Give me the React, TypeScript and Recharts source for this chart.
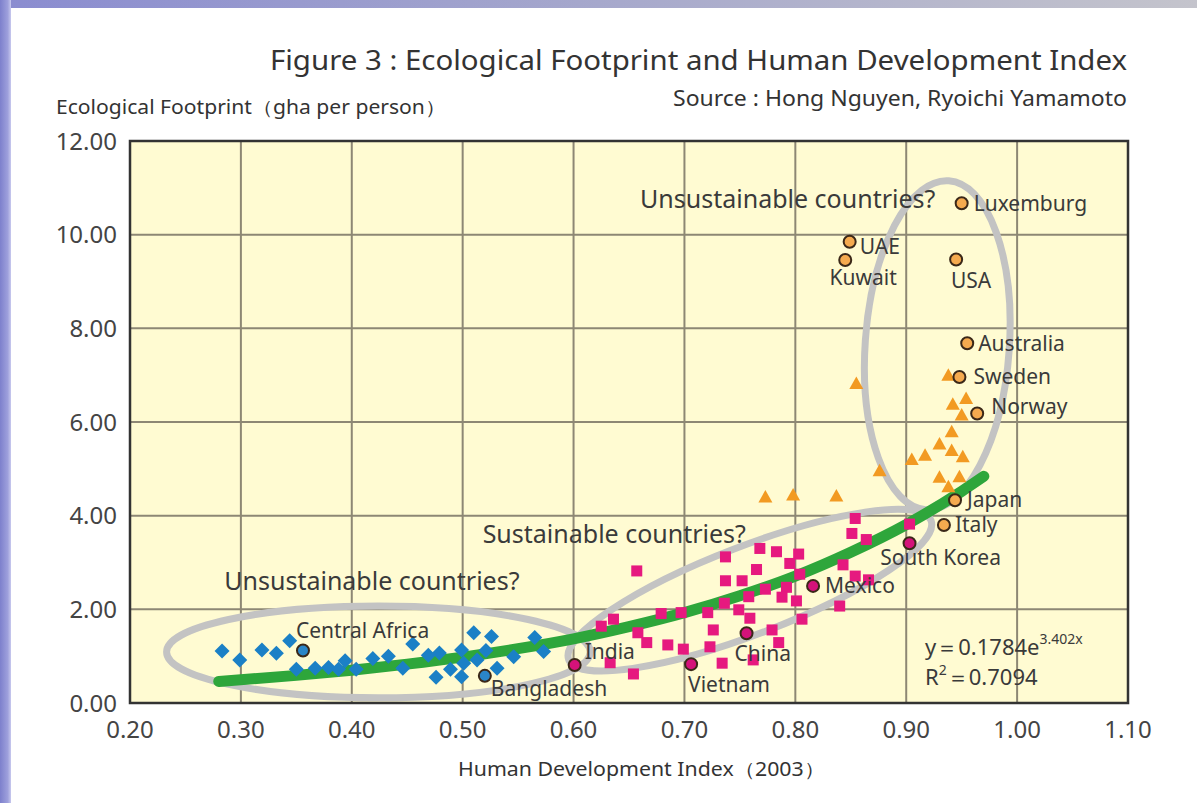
import React from 'react';
import { ScatterChart, Scatter, XAxis, YAxis, CartesianGrid, ReferenceArea } from 'recharts';

// ---------- data ----------
const lowHdi = [0.283, 0.299, 0.319, 0.332, 0.344, 0.350, 0.367, 0.379, 0.388, 0.394, 0.404, 0.419, 0.433, 0.446, 0.455, 0.469, 0.479, 0.476, 0.489, 0.499, 0.510, 0.526, 0.521, 0.513, 0.501, 0.499, 0.531, 0.546, 0.565, 0.573];
const lowEf = [1.11, 0.92, 1.13, 1.06, 1.33, 0.72, 0.74, 0.76, 0.72, 0.90, 0.72, 0.95, 1.00, 0.74, 1.26, 1.02, 1.07, 0.55, 0.72, 1.13, 1.50, 1.42, 1.12, 0.92, 0.85, 0.56, 0.74, 0.99, 1.40, 1.10];

const midHdi = [0.657, 0.625, 0.636, 0.658, 0.666, 0.633, 0.654, 0.679, 0.697, 0.685, 0.699, 0.721, 0.726, 0.723, 0.734, 0.737, 0.737, 0.752, 0.765, 0.768, 0.783, 0.773, 0.758, 0.736, 0.749, 0.759, 0.779, 0.762, 0.854, 0.851, 0.864, 0.903, 0.803, 0.795, 0.804, 0.792, 0.788, 0.801, 0.843, 0.854, 0.866, 0.840, 0.806, 0.785];
const midEf = [2.82, 1.64, 1.79, 1.50, 1.29, 0.86, 0.62, 1.91, 1.93, 1.24, 1.15, 1.93, 1.56, 1.20, 0.85, 3.12, 2.61, 2.61, 2.85, 3.30, 3.23, 2.43, 2.27, 2.13, 1.99, 1.81, 1.56, 0.92, 3.94, 3.62, 3.49, 3.82, 3.18, 2.98, 2.75, 2.47, 2.26, 2.18, 2.95, 2.71, 2.63, 2.07, 1.79, 1.29];

const highHdi = [0.855, 0.938, 0.954, 0.942, 0.950, 0.941, 0.930, 0.941, 0.951, 0.917, 0.905, 0.876, 0.930, 0.948, 0.938, 0.773, 0.798, 0.837];
const highEf = [6.82, 7.00, 6.50, 6.38, 6.15, 5.79, 5.53, 5.39, 5.26, 5.29, 5.20, 4.96, 4.82, 4.83, 4.62, 4.40, 4.44, 4.42];

const namedCountries = ['Central Africa', 'Bangladesh', 'India', 'Vietnam', 'China', 'Mexico', 'South Korea', 'Japan', 'Italy', 'Sweden', 'Norway', 'Australia', 'Luxemburg', 'UAE', 'Kuwait', 'USA'];
const namedHdi = [0.356, 0.520, 0.601, 0.706, 0.756, 0.816, 0.903, 0.944, 0.934, 0.948, 0.964, 0.955, 0.950, 0.849, 0.845, 0.945];
const namedEf = [1.12, 0.58, 0.81, 0.83, 1.49, 2.50, 3.41, 4.33, 3.80, 6.96, 6.18, 7.68, 10.67, 9.85, 9.46, 9.47];
const namedGroup = ['low', 'low', 'mid', 'mid', 'mid', 'mid', 'mid', 'high', 'high', 'high', 'high', 'high', 'high', 'high', 'high', 'high'];

const trendHdi = [0.28, 0.35, 0.40, 0.45, 0.50, 0.55, 0.60, 0.65, 0.70, 0.75, 0.80, 0.85, 0.90, 0.95, 0.97];
const trendEf = [0.46, 0.59, 0.70, 0.83, 0.98, 1.16, 1.37, 1.63, 1.93, 2.29, 2.71, 3.22, 3.81, 4.52, 4.84];

const annotationText = ['Unsustainable countries?', 'Sustainable countries?', 'Unsustainable countries?'];
const annotationHdi = [0.660, 0.518, 0.285];
const annotationEf = [10.57, 3.42, 2.41];

const equationHdi = [0.917];
const equationEf = [1.02];

// ellipses: bounding box (unrotated) in data units
const ellipseX1 = [0.233, 0.584, 0.863];
const ellipseX2 = [0.615, 0.934, 0.993];
const ellipseY1 = [0.11, 1.47, 4.12];
const ellipseY2 = [2.07, 3.35, 11.16];

const xTicks = [0.2, 0.3, 0.4, 0.5, 0.6, 0.7, 0.8, 0.9, 1.0, 1.1];
const yTicks = [0, 2, 4, 6, 8, 10, 12];

// ---------- styles ----------
const FONT = '"Noto Sans", "Open Sans", sans-serif';
const TEXT = '#3a3a3a';
const ellipseRotation = [0, -21, 4];
const groupFill: Record<string, string> = { low: '#2a86c8', mid: '#d4127a', high: '#f5aa4f' };
const labelPlace: Record<string, { dx: number; dy: number; anchor: 'start' | 'middle' | 'end' }> = {
  'Central Africa': { dx: -7, dy: -13, anchor: 'start' },
  Bangladesh: { dx: 6, dy: 20, anchor: 'start' },
  India: { dx: 10, dy: -6, anchor: 'start' },
  Vietnam: { dx: -3, dy: 28, anchor: 'start' },
  China: { dx: -12, dy: 28, anchor: 'start' },
  Mexico: { dx: 12, dy: 7, anchor: 'start' },
  'South Korea': { dx: 31, dy: 22, anchor: 'middle' },
  Japan: { dx: 12, dy: 7, anchor: 'start' },
  Italy: { dx: 11, dy: 7, anchor: 'start' },
  Sweden: { dx: 14, dy: 7, anchor: 'start' },
  Norway: { dx: 14, dy: 0, anchor: 'start' },
  Australia: { dx: 11, dy: 8, anchor: 'start' },
  Luxemburg: { dx: 12, dy: 8, anchor: 'start' },
  UAE: { dx: 10, dy: 12, anchor: 'start' },
  Kuwait: { dx: 18, dy: 25, anchor: 'middle' },
  USA: { dx: 15, dy: 29, anchor: 'middle' },
};

const zip = (xs: number[], ys: number[]) => xs.map((x, i) => ({ x, y: ys[i] }));
const lowData = zip(lowHdi, lowEf);
const midData = zip(midHdi, midEf);
const highData = zip(highHdi, highEf);
const trendData = zip(trendHdi, trendEf);
const namedData = namedCountries.map((name, i) => ({ x: namedHdi[i], y: namedEf[i], name, group: namedGroup[i] }));
const annotationData = annotationText.map((text, i) => ({ x: annotationHdi[i], y: annotationEf[i], text }));
const equationData = zip(equationHdi, equationEf);

const Diamond = (p: any) => (
  <polygon points={`${p.cx},${p.cy - 7.5} ${p.cx + 7.5},${p.cy} ${p.cx},${p.cy + 7.5} ${p.cx - 7.5},${p.cy}`} fill="#1b80c6" />
);
const Square = (p: any) => <rect x={p.cx - 5.5} y={p.cy - 5.5} width={11} height={11} fill="#e6197f" />;
const Triangle = (p: any) => (
  <polygon points={`${p.cx},${p.cy - 7} ${p.cx + 7},${p.cy + 5.5} ${p.cx - 7},${p.cy + 5.5}`} fill="#f29a22" />
);
const Named = (p: any) => {
  const d = p.payload || p;
  const pl = labelPlace[d.name];
  return (
    <g>
      <circle cx={p.cx} cy={p.cy} r={6} fill={groupFill[d.group]} stroke="#3b2818" strokeWidth={2} />
      <text x={p.cx + pl.dx} y={p.cy + pl.dy} textAnchor={pl.anchor} fontSize={21} fill={TEXT} fontFamily={FONT}>
        {d.name}
      </text>
    </g>
  );
};
const Annotation = (p: any) => {
  const d = p.payload || p;
  return (
    <text x={p.cx} y={p.cy} fontSize={25} fill={TEXT} fontFamily={FONT}>
      {d.text}
    </text>
  );
};
const Equation = (p: any) => (
  <g fontFamily={FONT} fill={TEXT}>
    <text x={p.cx} y={p.cy} fontSize={22}>
      y＝0.1784e<tspan dy={-11} fontSize={14}>3.402x</tspan>
    </text>
    <text x={p.cx} y={p.cy + 30} fontSize={22}>
      R<tspan dy={-10} fontSize={14}>2</tspan>
      <tspan dy={10}>＝0.7094</tspan>
    </text>
  </g>
);
const Nothing = () => <g />;
const ellipseShape = (rot: number) => (p: any) => {
  const cx = p.x + p.width / 2;
  const cy = p.y + p.height / 2;
  return (
    <ellipse cx={cx} cy={cy} rx={Math.abs(p.width) / 2} ry={Math.abs(p.height) / 2} transform={`rotate(${rot} ${cx} ${cy})`} fill="none" stroke="#c3c3c3" strokeWidth={7} />
  );
};

export default function App() {
  return (
    <div style={{ position: 'absolute', left: 0, top: 0, width: 1197, height: 803, background: '#fff', overflow: 'hidden' }}>
      <div style={{ position: 'absolute', left: 0, top: 0, width: 1197, height: 8, background: 'linear-gradient(90deg, #8a8cd0 0%, #a6a8cc 50%, #c4c4cc 100%)' }} />
      <div style={{ position: 'absolute', left: 0, top: 0, width: 11, height: 803, background: 'linear-gradient(90deg, #7d80cc 0%, #9ea0dc 70%, #c8c9ee 100%)' }} />
      <div style={{ position: 'absolute', left: 0, top: 0 }}>
        <ScatterChart width={1197} height={803} margin={{ top: 141, right: 69, bottom: 60, left: 0 }}>
          <CartesianGrid fill="#fffbd2" stroke="#8d8774" strokeWidth={2} verticalPoints={undefined} />
          <XAxis
            type="number"
            dataKey="x"
            domain={[0.2, 1.1]}
            ticks={xTicks}
            tickFormatter={(v: number) => v.toFixed(2)}
            tick={{ fontSize: 24, fill: '#444', fontFamily: FONT }}
            tickLine={false}
            tickSize={0}
            tickMargin={18}
            axisLine={false}
            height={40}
            allowDataOverflow
          />
          <YAxis
            type="number"
            dataKey="y"
            domain={[0, 12]}
            ticks={yTicks}
            tickFormatter={(v: number) => v.toFixed(2)}
            tick={{ fontSize: 24, fill: '#444', fontFamily: FONT }}
            tickLine={false}
            tickSize={0}
            tickMargin={13}
            axisLine={false}
            width={130}
            allowDataOverflow
          />
          {ellipseX1.map((x1, i) => (
            <ReferenceArea key={`el${i}`} x1={x1} x2={ellipseX2[i]} y1={ellipseY1[i]} y2={ellipseY2[i]} ifOverflow="visible" shape={ellipseShape(ellipseRotation[i])} />
          ))}
          <ReferenceArea x1={0.2} x2={1.1} y1={0} y2={12} fill="none" fillOpacity={0} stroke="#333" strokeWidth={2.5} ifOverflow="visible" />
          <Scatter
            data={trendData}
            fill="#2ea63b"
            line={{ stroke: '#2ea63b', strokeWidth: 11, strokeLinecap: 'round', strokeLinejoin: 'round' }}
            lineJointType="monotoneX"
            shape={Nothing}
            isAnimationActive={false}
          />
          <Scatter data={lowData} shape={Diamond} isAnimationActive={false} />
          <Scatter data={midData} shape={Square} isAnimationActive={false} />
          <Scatter data={highData} shape={Triangle} isAnimationActive={false} />
          <Scatter data={namedData} shape={Named} isAnimationActive={false} />
          <Scatter data={annotationData} shape={Annotation} isAnimationActive={false} />
          <Scatter data={equationData} shape={Equation} isAnimationActive={false} />
        </ScatterChart>
      </div>
      <svg width={1197} height={803} style={{ position: 'absolute', left: 0, top: 0, pointerEvents: 'none' }}>
        <text x={270} y={70} fontSize={28} fill="#333" fontFamily={FONT} textLength={857} lengthAdjust="spacingAndGlyphs">
          Figure 3 : Ecological Footprint and Human Development Index
        </text>
        <text x={673} y={106} fontSize={21} fill="#333" fontFamily={FONT} textLength={454} lengthAdjust="spacingAndGlyphs">
          Source : Hong Nguyen, Ryoichi Yamamoto
        </text>
        <text x={56} y={114} fontSize={19} fill="#333" fontFamily={FONT} textLength={390} lengthAdjust="spacingAndGlyphs">
          Ecological Footprint（gha per person）
        </text>
        <text x={458} y={776} fontSize={19} fill="#333" fontFamily={FONT} textLength={367} lengthAdjust="spacingAndGlyphs">
          Human Development Index（2003）
        </text>
      </svg>
    </div>
  );
}
